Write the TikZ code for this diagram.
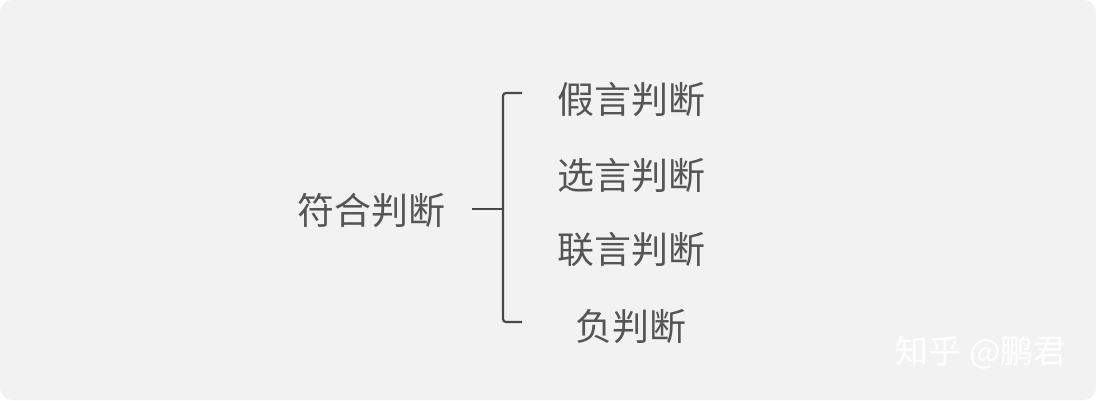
\documentclass[tikz,border=0pt]{standalone}
\usepackage{fontspec}
\newfontfamily\cjk{Noto Sans CJK SC}
\definecolor{bg}{HTML}{F2F2F2}
\definecolor{tx}{HTML}{555555}
\begin{document}
\begin{tikzpicture}[x=1pt,y=1pt,
  lbl/.style={font=\cjk\fontsize{37}{37}\selectfont,text=tx,inner sep=0pt},
  br/.style={draw=tx!85!black,line width=2.2pt,rounded corners=3pt}]
\useasboundingbox (0,0) rectangle (1096,400);
\fill[bg,rounded corners=12pt] (0,0) rectangle (1096,400);
\node[lbl] (m) at (371,190) {符合判断};
\node[lbl] (a) at (631,300) {假言判断};
\node[lbl] (b) at (631,224) {选言判断};
\node[lbl] (c) at (631,150) {联言判断};
\node[lbl] (d) at (631,73) {负判断};
\coordinate (t) at (522,307);
\coordinate (u) at (522,78);
\coordinate (mid) at (472,191);
\draw[br] (t) -- (503,307) -- (503,78) -- (u);
\draw[br] (mid) -- (503,191);
\node[font=\cjk\fontsize{33}{33}\selectfont,text=white,inner sep=0pt] (w) at (981,48) {知乎 @鹏君};
\end{tikzpicture}
\end{document}
